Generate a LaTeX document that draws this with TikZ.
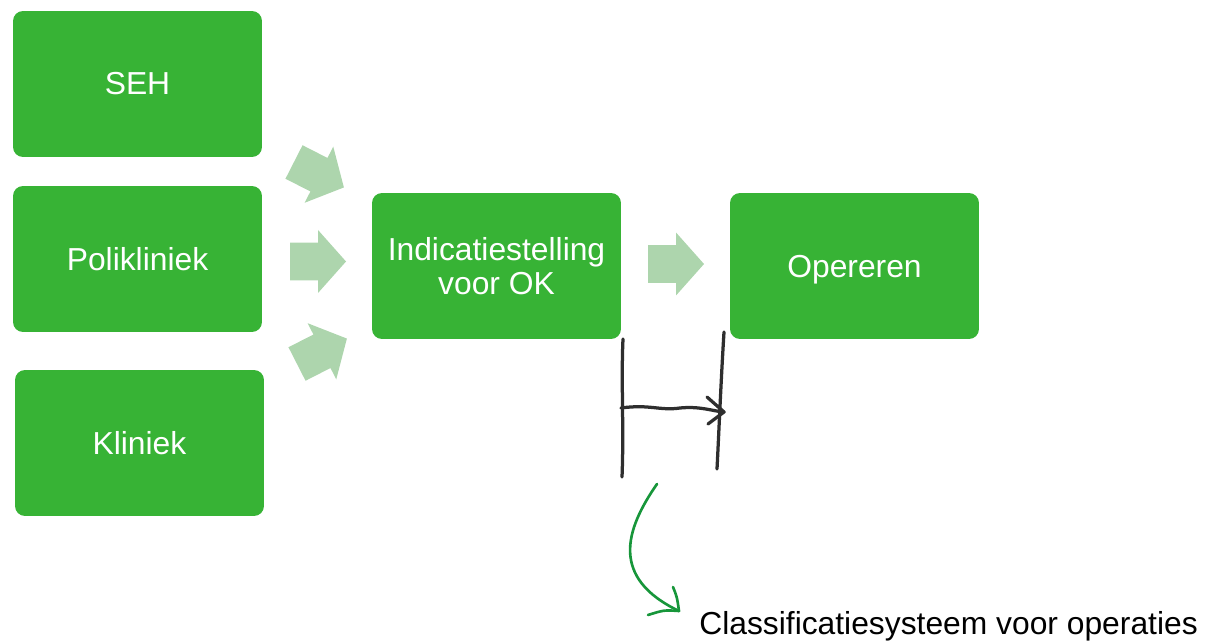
\documentclass[tikz,border=0pt]{standalone}
\usepackage{fontspec}
\setmainfont{Liberation Sans}
\definecolor{boxgreen}{HTML}{37B335}
\definecolor{arrowgreen}{HTML}{ADD5AD}
\definecolor{penblack}{HTML}{2E2E2E}
\definecolor{pengreen}{HTML}{17963A}
\tikzset{
  stage/.style={draw=none, fill=boxgreen, rounded corners=0.2cm, minimum width=4.98cm, minimum height=2.92cm, inner sep=0pt, text=white, align=center, font=\fontsize{18.1}{19.6}\selectfont},
  blockarr/.pic={\fill[arrowgreen] (0,-18.8) -- (28,-18.8) -- (28,-31.5) -- (56,0) -- (28,31.5) -- (28,18.8) -- (0,18.8) -- cycle;},
  handline/.style={draw=penblack, line width=1.85pt, line cap=round, line join=round},
  greenpen/.style={draw=pengreen, line width=1.5pt, line cap=round, line join=round},
}
\begin{document}
\begin{tikzpicture}[x=0.02cm, y=-0.02cm]
\useasboundingbox (0,0) rectangle (1206,641);
\node[stage] (seh) at (137.5,84) {SEH};
\node[stage] (poli) at (137.5,259) {Polikliniek};
\node[stage] (klin) at (139.5,443) {Kliniek};
\node[stage] (ind) at (496.5,266) {Indicatiestelling\\voor OK};
\node[stage, text depth=0pt, text height=12.96pt] (oper) at (854.5,266) {Opereren};
% block arrows
\pic[rotate=-27] at (294,162) {blockarr};
\pic at (290,261.5) {blockarr};
\pic[rotate=27] at (297,364) {blockarr};
\pic at (648,264) {blockarr};
% hand-drawn marks
\coordinate (l1) at (623,339);
\coordinate (l2) at (622,477);
\coordinate (r1) at (724,332);
\coordinate (r2) at (717,469);
\coordinate (h1) at (621,408);
\coordinate (h2) at (724,412);
\coordinate (ha) at (707,397);
\coordinate (hb) at (708,424);
\draw[handline] (l1) .. controls (621,380) and (624,430) .. (l2);
\draw[handline] (r1) .. controls (721,380) and (719,430) .. (r2);
\draw[handline] (h1) .. controls (650,404) and (660,411) .. (680,408) .. controls (700,406) and (712,411) .. (h2);
\draw[handline] (ha) -- (h2) -- (hb);
\coordinate (g1) at (657,484);
\coordinate (g2) at (679,611);
\coordinate (ga) at (673,587);
\coordinate (gb) at (648,615);
\draw[greenpen] (g1) .. controls (625,530) and (610,578) .. (g2);
\draw[greenpen] (ga) .. controls (677,597) .. (g2) .. controls (664,610) .. (gb);
\node[anchor=base west, inner sep=0pt, font=\fontsize{18.1}{19.6}\selectfont] (cls) at (699,634) {Classificatiesysteem voor operaties};
\end{tikzpicture}
\end{document}
